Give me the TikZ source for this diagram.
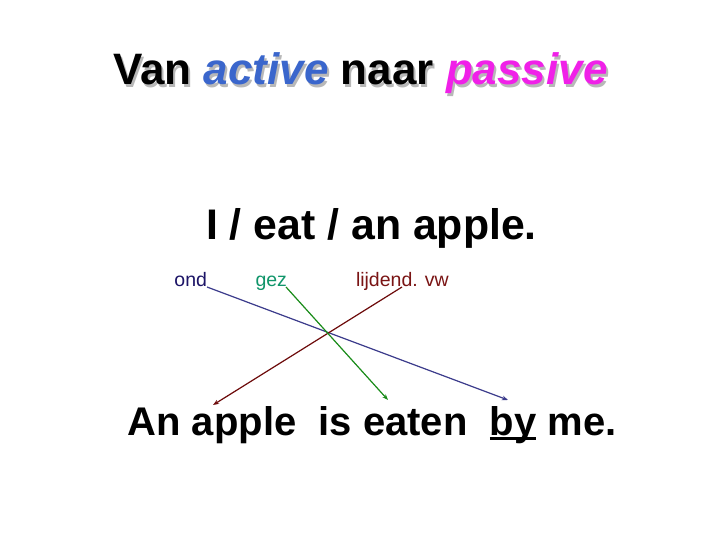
\documentclass[tikz,border=0pt]{standalone}
\usepackage{fontspec}
\setmainfont{Liberation Sans}
\usetikzlibrary{arrows.meta}
\definecolor{actblue}{HTML}{3A66CC}
\definecolor{passmag}{HTML}{F020E8}
\definecolor{shadowgray}{HTML}{B8B8B8}
\definecolor{ondcol}{HTML}{1C1466}
\definecolor{gezcol}{HTML}{10956A}
\definecolor{lijcol}{HTML}{7A1414}
\definecolor{ondline}{HTML}{3C3C8C}
\definecolor{gezline}{HTML}{1A8C1A}
\definecolor{lijline}{HTML}{6E0C0C}
\newcommand{\byul}[1]{\sbox0{#1}\rlap{\rule[-5pt]{\wd0}{2.6pt}}\usebox0}
\tikzset{
  txt/.style={anchor=base, inner sep=0pt, outer sep=0pt},
  big/.style={txt, font=\fontsize{40}{48}\selectfont\bfseries},
  small/.style={txt, font=\fontsize{19.5}{23}\selectfont},
  conn/.style={line width=1.2pt, -{Stealth[length=6pt,width=4.5pt]}}
}
\begin{document}
\begin{tikzpicture}[x=1pt,y=-1pt]
\useasboundingbox (0,0) rectangle (720,540);
\fill[white] (0,0) rectangle (720,540);
% title with shadow
\node[txt, font=\fontsize{44}{52}\selectfont\bfseries, text=shadowgray] (titleshadow) at (362.5,87.5)
  {Van \textit{active} naar \textit{passive}};
\node[txt, font=\fontsize{44}{52}\selectfont\bfseries] (title) at (360.5,85)
  {Van \textcolor{actblue}{\textit{active}} naar \textcolor{passmag}{\textit{passive}}};
% active sentence
\node[big, font=\fontsize{42.8}{48}\selectfont\bfseries] (active) at (371.5,240) {I / eat / an apple.};
% labels
\node[small, text=ondcol, anchor=base east] (ond) at (207,286) {ond};
\node[small, text=gezcol, anchor=base east] (gez) at (287,286) {gez};
\node[small, text=lijcol, anchor=base west] (lij) at (356,286) {lijdend. vw};
% passive sentence
\node[big] (passive) at (372,435) {An apple\ \ is eaten\ \ \byul{by} me.};
% connector ends
\coordinate (ondS) at (207,287);
\coordinate (ondE) at (508,400);
\coordinate (gezS) at (286,287);
\coordinate (gezE) at (388,400);
\coordinate (lijS) at (402,287);
\coordinate (lijE) at (213,405);
\draw[conn, draw=ondline, fill=ondline] (ondS) -- (ondE);
\draw[conn, draw=lijline, fill=lijline] (lijS) -- (lijE);
\draw[conn, draw=gezline, fill=gezline] (gezS) -- (gezE);
\end{tikzpicture}
\end{document}
